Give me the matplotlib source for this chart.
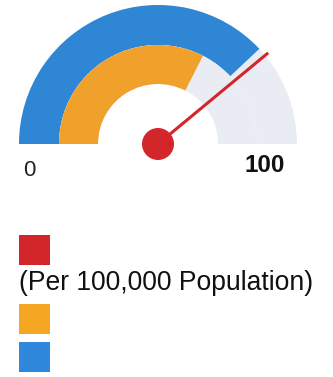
import numpy as np
import matplotlib.pyplot as plt
from matplotlib.patches import Wedge, Circle, Rectangle

# gauge data
gauge_min = 0
gauge_max = 100
needle_value = 78
bar_values = [76, 65]          # outer ring, inner ring
bar_colors = ['#2f86d4', '#f0a12b']
track_color = '#e9edf3'
needle_color = '#d3262a'
tick_labels = ['0', '100']
subtitle = '(Per 100,000 Population)'
legend_colors = ['#d3262a', '#f5a623', '#2f88dc']

W, H = 333, 377


def py(y):
    # pixel row -> data y (y axis points up)
    return H - y


def to_angle(v):
    frac = (v - gauge_min) / (gauge_max - gauge_min)
    return 180.0 - 180.0 * frac


fig = plt.figure(figsize=(W / 100, H / 100), dpi=100)
ax = fig.add_axes([0, 0, 1, 1])
ax.set_xlim(0, W)
ax.set_ylim(0, H)
ax.set_aspect('equal')
ax.axis('off')

cx, cy = 158, py(144)
ring_edges = [139, 99, 60]

for i, (val, col) in enumerate(zip(bar_values, bar_colors)):
    r_out = ring_edges[i]
    w = ring_edges[i] - ring_edges[i + 1]
    ax.add_patch(Wedge((cx, cy), r_out, 0, 180, width=w, facecolor=track_color,
                       edgecolor='none'))
    ax.add_patch(Wedge((cx, cy), r_out, to_angle(val), 180, width=w,
                       facecolor=col, edgecolor='none'))

# needle
a = np.radians(to_angle(needle_value))
ax.plot([cx, cx + 143 * np.cos(a)], [cy, cy + 143 * np.sin(a)],
        color=needle_color, lw=2.2, solid_capstyle='butt', zorder=3)
ax.add_patch(Circle((cx, cy), 16, facecolor=needle_color, edgecolor='none', zorder=4))

# min / max labels
ax.text(29, py(171), tick_labels[0], ha='center', va='center',
        fontsize=16, family='Liberation Sans', color='#222222')
ax.text(265, py(166), tick_labels[1], ha='center', va='center',
        fontsize=17.5, fontweight='bold', family='Liberation Sans', color='#111111')

# legend squares + subtitle
sq_tops = [235, 304, 342]
for top, col in zip(sq_tops, legend_colors):
    ax.add_patch(Rectangle((19, py(top + 30)), 31, 30, facecolor=col, edgecolor='none'))

ax.text(19, py(283), subtitle, ha='left', va='center',
        fontsize=19.1, family='Liberation Sans', color='#111111')

fig.savefig('out.png', dpi=100)
